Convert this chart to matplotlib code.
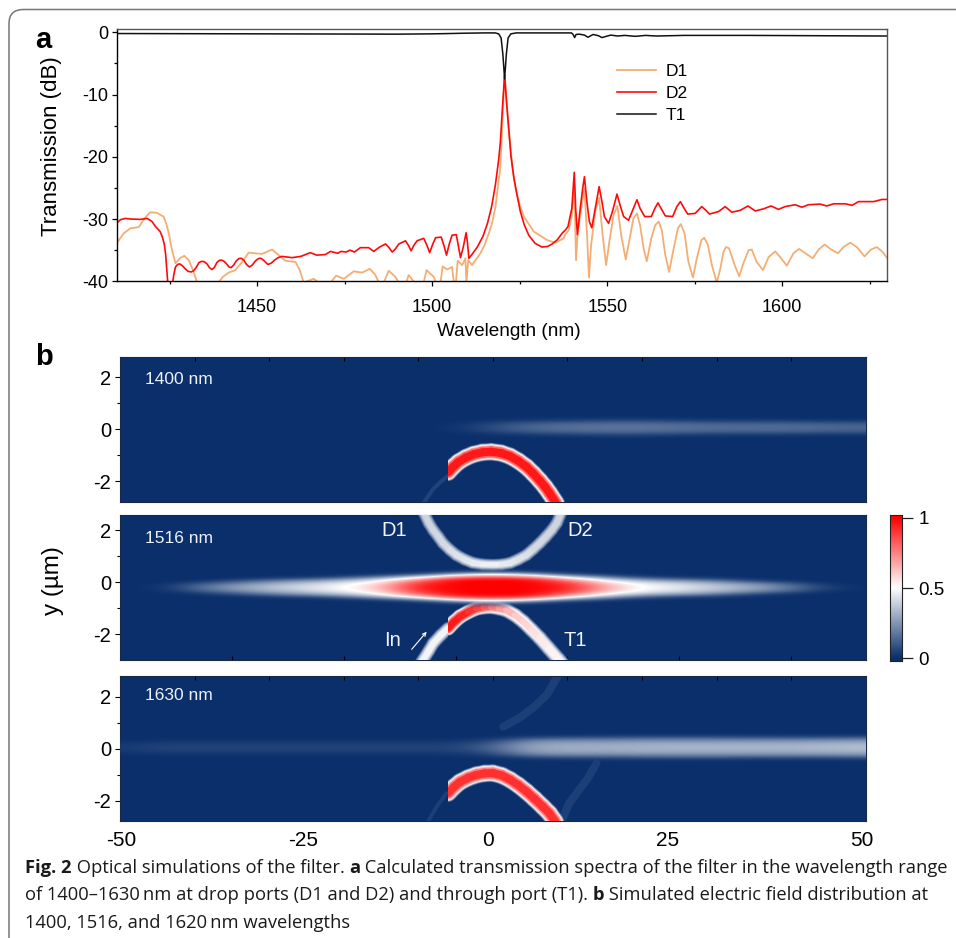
import numpy as np
import matplotlib
matplotlib.use("Agg")
import matplotlib.pyplot as plt
from matplotlib.collections import LineCollection
from matplotlib.colors import LinearSegmentedColormap
from matplotlib.patches import FancyBboxPatch, Rectangle

plt.rcParams['font.family'] = ['Liberation Sans', 'DejaVu Sans']
plt.rcParams['axes.unicode_minus'] = False

# spectra (nm, dB)
d2_nm = [1410, 1411, 1412.4, 1414, 1416.7, 1418.6, 1420, 1421, 1422.3, 1422.9, 1423.5, 1423.9, 1424.6, 1425.7, 1426.2, 1426.7, 1427.3, 1427.9, 1428.7, 1429.5,
         1430.3, 1431.2, 1431.9, 1432.6, 1433.4, 1434.1, 1434.9, 1435.7, 1436.4, 1437.1, 1437.8, 1438.5, 1439.2, 1439.9, 1440.6, 1441.3, 1442, 1442.6, 1443.3, 1444.1,
         1444.8, 1445.5, 1446.2, 1447, 1447.8, 1448.6, 1449.6, 1450.4, 1451.1, 1452, 1453.1, 1454, 1455, 1456, 1457.1, 1460, 1462.5, 1465.2, 1467.1, 1469.5,
         1471, 1473, 1474, 1475.4, 1476.6, 1477.8, 1479.5, 1481.9, 1483.3, 1485, 1486.7, 1487.7, 1488.6, 1489.5, 1490.5, 1492.4, 1493.2, 1494, 1494.8, 1495.7,
         1497.6, 1498.5, 1499.3, 1500.2, 1501, 1502.6, 1503.4, 1504.1, 1504.9, 1505.7, 1506.9, 1507.5, 1508.1, 1508.9, 1509.7, 1510.1, 1510.5, 1511.5, 1512.9, 1514.5,
         1515.8, 1517, 1518.1, 1519, 1519.5, 1520.1, 1520.7, 1521.3, 1521.9, 1522.5, 1523.3, 1524.2, 1525.2, 1526.3, 1527.6, 1529.4, 1531.4, 1533, 1534.3, 1535.8,
         1537.1, 1538, 1538.8, 1539.4, 1539.9, 1540.6, 1541, 1541.5, 1542.3, 1543, 1543.5, 1544.2, 1544.9, 1545.6, 1546.6, 1547.7, 1548.5, 1549.2, 1550.4, 1551.5,
         1552.8, 1553.7, 1554.7, 1556.1, 1557.5, 1558.5, 1559.4, 1560.7, 1562.6, 1563.7, 1564.5, 1565.4, 1566.6, 1568.7, 1569.9, 1570.9, 1572, 1573, 1575.1, 1577,
         1578.2, 1579.2, 1581.8, 1583.7, 1585.6, 1588, 1590.2, 1592.3, 1594.7, 1596.8, 1598.9, 1600.8, 1603.7, 1605.6, 1607.5, 1610.8, 1612.7, 1614.7, 1618, 1619.9,
         1621.8, 1626.1, 1628.5, 1630]
d2_db = [-30.6, -30.1, -29.9, -30, -30.05, -29.9, -30.4, -31.2, -32, -32.8, -34, -35.7, -41, -41, -39, -37.7, -37.3, -37.2, -37.5, -38,
         -38.4, -38.5, -38.3, -37.8, -37, -36.8, -36.85, -37.2, -37.8, -38.1, -37.8, -37, -36.65, -36.6, -36.8, -37.2, -37.7, -37.8, -37.4, -36.7,
         -36.35, -36.3, -36.6, -37.3, -37.7, -37.4, -36.7, -36.35, -36.3, -36.7, -37.3, -37.1, -36.6, -36.2, -36, -36.2, -36, -35.4, -35.8, -35.7,
         -35.2, -35.5, -35.2, -35.3, -35, -35.3, -34.6, -34.6, -35.2, -34.5, -34, -34.6, -35.3, -34.8, -34, -33.5, -34.2, -35.1, -34.2, -33.5,
         -33.1, -34.2, -35.4, -34, -33, -32.9, -34.3, -35.8, -34, -32.6, -32.5, -34.3, -36.2, -34.5, -32.2, -33.8, -36.3, -35.6, -34.5, -32.8,
         -30.7, -28, -24.4, -20.5, -17.6, -12, -6.8, -11.5, -15.6, -19.8, -23.2, -26, -28.8, -30.9, -32.6, -33.9, -34.5, -34.4, -34, -33.3,
         -32.3, -31.8, -31.2, -29.6, -28.3, -22.5, -28.3, -32.5, -28.3, -25.1, -23.2, -27.2, -30.4, -31.4, -28.3, -24.8, -27.2, -29.6, -30.7, -28.8,
         -26, -27.8, -29.6, -30.2, -28.3, -26.9, -28.3, -29.6, -29.6, -28.2, -27.4, -28.3, -29.5, -29.6, -28, -27.2, -28.3, -29.2, -29.1, -28,
         -28.6, -29.2, -28.8, -28, -28.9, -28.6, -27.9, -28.7, -28.35, -27.9, -28.45, -28, -27.7, -28.1, -27.7, -27.6, -27.9, -27.55, -27.55, -27.8,
         -27.2, -27.2, -26.85, -26.85]

d1_nm = [1410, 1411.9, 1413.8, 1416.2, 1418, 1419.5, 1421.4, 1423.3, 1424.1, 1424.8, 1425.7, 1426.7, 1428, 1429.2, 1430.5, 1431.7, 1432.9, 1435, 1438.6, 1440.2,
         1441.9, 1443.8, 1445.7, 1447.6, 1451.4, 1454.3, 1456.2, 1458.1, 1461, 1462.2, 1463.3, 1466.2, 1467.6, 1471, 1472.6, 1474.8, 1477.6, 1480, 1482.2, 1483.7,
         1484.8, 1486.2, 1487.6, 1489.5, 1490.5, 1492.6, 1493.3, 1495, 1497.6, 1498.4, 1500.5, 1501, 1502.4, 1503, 1504.3, 1505.7, 1506.2, 1506.8, 1507.3, 1508.6,
         1509.5, 1509.8, 1510.3, 1511.4, 1513.8, 1515, 1516.2, 1517.2, 1518.1, 1519.5, 1520.1, 1520.7, 1521.3, 1521.9, 1523, 1523.8, 1525, 1526.2, 1529, 1532.9,
         1535.2, 1537.6, 1538, 1539, 1539.9, 1540.6, 1541.1, 1541.6, 1542.6, 1543.5, 1544.2, 1544.8, 1545.4, 1546.6, 1547.7, 1548.7, 1549.7, 1550.6, 1551.8, 1552.9,
         1554, 1555.3, 1556.6, 1557.5, 1558.5, 1559.4, 1560.4, 1561.3, 1562.6, 1563.7, 1564.7, 1565.6, 1566.6, 1567.7, 1569, 1570.2, 1571, 1572.1, 1573.2, 1574.5,
         1575.6, 1576.9, 1577.7, 1578.8, 1579.9, 1581.3, 1582.3, 1583.2, 1583.9, 1584.8, 1586.4, 1587.7, 1588.9, 1590.4, 1591.3, 1592.7, 1594.5, 1596.1, 1598, 1599.4,
         1601.3, 1603.2, 1604.8, 1606.6, 1608.7, 1610.4, 1612.1, 1614, 1615.9, 1617.5, 1619.4, 1621.3, 1623.5, 1625.3, 1627, 1628.7, 1630]
d1_db = [-33.8, -32.3, -31.5, -31.3, -29.8, -28.9, -29, -29.6, -30.8, -32.3, -35, -37.1, -36.3, -35.9, -36.6, -38.2, -40.2, -41, -40.5, -39.3,
         -38.6, -38.2, -36.9, -35.4, -35.6, -34.9, -35.8, -36.7, -36.9, -38.2, -40.2, -39.6, -40.2, -40.2, -39.1, -39.6, -38.4, -38.6, -38, -38.9,
         -40.2, -40.2, -38.3, -39.3, -40.2, -40.2, -39, -40.2, -40.2, -38.2, -39.3, -40.2, -40.2, -37.6, -38.1, -37.7, -40.2, -40.2, -36.7, -37.4,
         -36.3, -40.2, -36.6, -37.4, -35.5, -34.1, -32.3, -30.5, -28, -21.6, -14, -7, -11.5, -15.6, -22, -25, -27.7, -29.6, -32, -33.4,
         -33.8, -33.1, -32.5, -31.8, -29.4, -24.5, -36.6, -32.05, -28.3, -25.1, -32, -39.4, -34.2, -28.8, -26.6, -32.6, -37.4, -33.7, -29.4, -27.9,
         -32.6, -36.5, -32.6, -29.9, -29.1, -31, -34.7, -36.8, -33.1, -31, -30.4, -31.8, -35.8, -38.5, -34.7, -31.5, -30.8, -32.3, -36.9, -39.4,
         -36.3, -33.4, -33, -34.2, -37.4, -40.2, -38, -35.3, -34.5, -34.7, -37.4, -39.2, -37.1, -35, -34.9, -36.9, -38.2, -36.1, -35.2, -36.1,
         -37.5, -35.5, -34.8, -35.5, -36.3, -34.9, -34.1, -34.9, -35.5, -34.5, -33.8, -34.5, -36, -34.9, -34.5, -35.3, -36.3]

t1_nm = [1410, 1450, 1490, 1500, 1505, 1509, 1515, 1518, 1519, 1519.7, 1520.2, 1520.7, 1521.2, 1521.7, 1522.5, 1524, 1539.8, 1540.2, 1540.7, 1541.1,
         1542, 1543.5, 1544.5, 1546, 1547.5, 1548.5, 1551, 1553, 1555, 1558, 1561, 1564, 1568, 1572, 1590, 1610, 1630]
t1_db = [-0.2, -0.25, -0.3, -0.25, -0.2, -0.15, -0.1, -0.1, -0.25, -0.9, -3.5, -7.5, -3.5, -0.9, -0.25, -0.1, -0.1, -0.3, -0.85, -0.35,
         -0.3, -0.45, -0.8, -0.35, -0.55, -0.85, -0.45, -0.6, -0.5, -0.65, -0.5, -0.6, -0.55, -0.5, -0.5, -0.55, -0.6]

a_xticks = [1450, 1500, 1550, 1600]
a_xminor = [1425, 1475, 1525, 1575, 1625]
a_yticks = [0, -10, -20, -30, -40]
a_yminor = [-5, -15, -25, -35]

# field panels b: beam envelope on a 5 um grid, rows at |y - y0| = 0, .15, .3, .45, .6, .75
beam_x = np.arange(-50, 55, 5)
beam_offsets = [0, 0.15, 0.3, 0.45, 0.6, 0.75]

beam_1400 = [
    [0, 0, 0, 0, 0, 0, 0, 0, 0, .05, .1, .14, .16, .17, .17, .16, .15, .15, .15, .14, .14],
    [0, 0, 0, 0, 0, 0, 0, 0, 0, .04, .09, .12, .14, .15, .15, .14, .13, .13, .13, .12, .12],
    [0, 0, 0, 0, 0, 0, 0, 0, 0, .01, .04, .06, .07, .08, .08, .07, .06, .06, .06, .05, .05],
    [0, 0, 0, 0, 0, 0, 0, 0, 0, 0, 0, .01, .01, .02, .02, .01, .01, .01, 0, 0, 0],
    [0] * 21,
    [0] * 21,
]
beam_1516 = [
    [0, .05, .14, .27, .36, .43, .5, .62, .95, 1, 1, 1, .95, .68, .5, .45, .38, .3, .18, .08, .02],
    [0, .03, .11, .2, .3, .38, .46, .58, .92, 1, 1, 1, .92, .62, .46, .41, .33, .24, .13, .05, .01],
    [0, 0, .03, .08, .13, .2, .3, .44, .72, 1, 1, 1, .72, .44, .28, .2, .13, .07, .03, 0, 0],
    [0, 0, 0, 0, .02, .03, .07, .12, .3, .6, .75, .6, .3, .12, .06, .03, .02, 0, 0, 0, 0],
    [0, 0, 0, 0, 0, 0, 0, .01, .03, .1, .15, .1, .03, .01, 0, 0, 0, 0, 0, 0, 0],
    [0] * 21,
]
beam_1630 = [
    [.06, .08, .08, .08, .08, .08, .08, .08, .08, .08, .14, .29, .31, .31, .32, .33, .33, .33, .33, .34, .35],
    [.05, .07, .07, .07, .07, .07, .07, .07, .07, .07, .12, .27, .29, .29, .3, .3, .3, .3, .3, .31, .32],
    [.02, .04, .04, .04, .04, .04, .04, .04, .04, .04, .08, .19, .2, .2, .21, .21, .21, .21, .21, .22, .23],
    [0, .01, .01, .01, .01, .01, .01, .01, .01, .01, .02, .06, .07, .07, .08, .08, .08, .07, .07, .07, .08],
    [0] * 21,
    [0] * 21,
]

# waveguide centre lines (um) and peak field along them
arc_1400_x = [-6.0, -5.3, -4.6, -3.6, -2.6, -1.4, -0.2, 1.1, 2.3, 3.4, 4.5, 5.4, 6.3, 7.0, 7.6, 8.5]
arc_1400_y = [-1.66, -1.44, -1.26, -1.09, -0.97, -0.89, -0.87, -0.92, -1.04, -1.22, -1.45, -1.7, -1.98, -2.22, -2.46, -2.85]
arc_1400_a = [1] * 16

arc_1630_x = [-6.0, -5.2, -4.4, -3.3, -2.2, -1.1, 0, 1.2, 2.3, 3.4, 4.5, 5.6, 6.7, 7.6, 8.4]
arc_1630_y = [-1.7, -1.46, -1.27, -1.11, -1.0, -0.94, -0.93, -1.02, -1.18, -1.39, -1.64, -1.92, -2.22, -2.48, -2.8]
arc_1630_a = [.95] * 15

arc_up_x = [-9.3, -8.6, -8, -7.3, -6.7, -5.8, -4.9, -3.8, -2.7, -1.4, 0, 1.2, 2.3, 3.4, 4.5, 5.4, 6.3, 7.1, 7.9, 8.6, 9.2]
arc_up_y = [2.7, 2.28, 2, 1.74, 1.5, 1.25, 1.04, .87, .74, .67, .65, .67, .73, .87, 1.04, 1.26, 1.5, 1.74, 2, 2.28, 2.7]
arc_up_a = [.42, .42, .42, .43, .43, .44, .45, .46, .47, .48, .5, .48, .47, .46, .45, .44, .43, .43, .42, .42, .42]

arc_low_in_x = [-9.6, -9.3, -8.6, -8, -7, -6]
arc_low_in_y = [-3.1, -2.97, -2.65, -2.36, -2.05, -1.78]
arc_low_in_a = [.5, .5, .5, .5, .5, .5]

arc_low_x = [-6.0, -5.2, -4.4, -3.3, -2.2, -1.2, -0.2, 0.8, 1.8, 3.0, 4.1, 5.2, 6.3, 7.5, 8.8, 9.2]
arc_low_y = [-1.78, -1.53, -1.33, -1.15, -1.01, -0.96, -0.95, -1.0, -1.08, -1.28, -1.53, -1.84, -2.16, -2.55, -2.97, -3.1]
arc_low_a = [1, 1, 1, .97, .93, .88, .82, .75, .7, .65, .62, .6, .58, .56, .55, .55]

# faint scattering streaks
ghost_1400_x = [-9.2, -8, -6.9, -6]
ghost_1400_y = [-2.8, -2.3, -2, -1.8]
ghost_1630a_x = [8.7, 7.3, 5.5, 3.6, 1.4]
ghost_1630a_y = [2.8, 2.1, 1.6, 1.2, .85]
ghost_1630b_x = [13.9, 12.8, 11.5, 10.2, 9.2]
ghost_1630b_y = [-.55, -1.1, -1.6, -2.1, -2.8]
ghost_1630c_x = [-8.7, -7.5, -6.2]
ghost_1630c_y = [-2.8, -2.2, -1.7]

# band cross section: fraction of the peak and full width in pixels
band_levels = [.08, .2, .35, .5, .65, .8, .95]
band_widths = [18, 17, 16, 14.5, 13, 11, 8]

panel_names = ['1400 nm', '1516 nm', '1630 nm']
b_xlabels = ['-50', '-25', '0', '25', '50']
b_xlabel_pos = [-49.8, -25.5, -0.6, 23.4, 49.5]

cmap = LinearSegmentedColormap.from_list('field', ['#0a2f6b', '#ffffff', '#ff0000'])

W, H = 956, 938
fig = plt.figure(figsize=(W / 100, H / 100), dpi=100)
GREY = '#222222'


def box(left, top, right, bottom):
    return [left / W, 1 - bottom / H, (right - left) / W, (bottom - top) / H]


def put(x, y, s, **kw):
    return fig.text(x / W, 1 - y / H, s, **kw)


# frame of the figure block
fig.add_artist(FancyBboxPatch((9 / W, 0.0 - 0.1), 2, 1 - 9.5 / H + 0.1, boxstyle='round,pad=0,rounding_size=0.015',
                              transform=fig.transFigure, fc='none', ec='#777777', lw=1.1, mutation_aspect=1))

# panel a
ax = fig.add_axes(box(117, 29.3, 887.3, 281.3))
ax.plot(d1_nm, d1_db, color='#f4ae74', lw=1.3, label='D1')
ax.plot(d2_nm, d2_db, color='#ff0a0a', lw=1.2, label='D2')
ax.plot(t1_nm, t1_db, color='#111111', lw=1.1, label='T1')
ax.set_xlim(1410, 1630)
ax.set_ylim(-40, 0.48)
ax.set_xticks(a_xticks)
ax.set_xticks(a_xminor, minor=True)
ax.set_yticks(a_yticks)
ax.set_yticks(a_yminor, minor=True)
ax.tick_params(axis='x', which='major', pad=9)
ax.tick_params(axis='y', which='major', pad=3)
ax.tick_params(which='major', length=3.5, width=0.9, labelsize=13)
ax.tick_params(which='minor', length=2.5, width=0.9)
for s in ax.spines.values():
    s.set_linewidth(1.0)
for s in ['top', 'right']:
    ax.spines[s].set_color('#555555')
ax.legend(loc='upper left', bbox_to_anchor=(0.6495, 0.861), frameon=False, fontsize=12.5,
          handlelength=2.2, handletextpad=0.6, labelspacing=0.38, borderpad=0, borderaxespad=0)
put(509, 331, 'Wavelength (nm)', fontsize=13.7, ha='center', va='center')
put(52, 146, 'Transmission (dB)', fontsize=16, rotation=90, ha='center', va='center')
put(35, 48, 'a', fontsize=21, fontweight='bold', ha='left', va='baseline')
put(35, 365, 'b', fontsize=21, fontweight='bold', ha='left', va='baseline')


def draw_band(ax, x, y, amp, left=None, right=None, scale=1.0):
    pts = np.column_stack([x, y])
    segs = np.stack([pts[:-1], pts[1:]], axis=1)
    a = (np.array(amp[:-1]) + np.array(amp[1:])) / 2
    y0, y1 = ax.get_ylim()
    for lev, wid in zip(band_levels, band_widths):
        lc = LineCollection(segs, colors=cmap(lev * a), linewidths=wid * scale * 0.72, capstyle='round', zorder=3)
        ax.add_collection(lc)
        if left is not None or right is not None:
            lo = -60 if left is None else left
            hi = 60 if right is None else right
            lc.set_clip_path(Rectangle((lo, y0), hi - lo, y1 - y0, transform=ax.transData))


def draw_ghost(ax, x, y, level=.04, width=8):
    ax.plot(x, y, color=cmap(level), lw=width * 0.72, solid_capstyle='round', zorder=2)


def field_axes(top, bottom, ylim, beam, y0):
    ax = fig.add_axes(box(120, top, 865.7, bottom))
    m = np.array(beam, dtype=float)
    m = np.vstack([m[::-1], m[1:]])
    off = np.array(beam_offsets)
    dy = off[1] - off[0]
    ax.set_facecolor(cmap(0.0))
    # transparent where the beam is empty, so the band glow is not cut by it
    ax.imshow(m, cmap=cmap, vmin=0, vmax=1, aspect='auto', interpolation='bicubic', origin='lower',
              alpha=np.clip(m * 8, 0, 1),
              extent=[beam_x[0] - 2.5, beam_x[-1] + 2.5, y0 - off[-1] - dy / 2, y0 + off[-1] + dy / 2], zorder=4)
    ax.set_xlim(-50, 50)
    ax.set_ylim(*ylim)
    ax.set_yticks([2, 0, -2])
    ax.set_yticklabels(['2', '0', '-2'])
    ax.set_yticks([1, -1], minor=True)
    ax.set_xticks([])
    ax.tick_params(axis='y', which='major', length=3.5, width=0.8, labelsize=14.5, pad=3)
    ax.tick_params(axis='y', which='minor', length=2, width=0.8)
    for s in ax.spines.values():
        s.set_linewidth(0.8)
        s.set_color('#1b2a44')
    return ax


ax1 = field_axes(357, 502, (-2.8, 2.77), beam_1400, 0.05)
draw_ghost(ax1, ghost_1400_x, ghost_1400_y, level=.05, width=4)
draw_band(ax1, arc_1400_x, arc_1400_y, arc_1400_a, left=-6)
ax1.tick_params(axis='x', which='major', direction='in', top=True, bottom=False, length=3, width=0.8)
ax1.set_xticks(np.arange(-40, 50, 10))
ax1.set_xticklabels([])

ax2 = field_axes(515, 660, (-3.0, 2.58), beam_1516, -0.2)
draw_band(ax2, arc_up_x, arc_up_y, arc_up_a, scale=0.72)
draw_band(ax2, arc_low_in_x, arc_low_in_y, arc_low_in_a, right=-6, scale=0.75)
draw_band(ax2, arc_low_x, arc_low_y, arc_low_a, left=-6, scale=0.85)
ax2.set_xticks(np.arange(-35, 50, 15))
ax2.set_xticklabels([])
ax2.tick_params(axis='x', which='major', direction='in', top=False, bottom=True, length=3, width=0.8)

ax3 = field_axes(676, 821, (-2.77, 2.8), beam_1630, 0.05)
draw_ghost(ax3, ghost_1630a_x, ghost_1630a_y)
draw_ghost(ax3, ghost_1630b_x, ghost_1630b_y)
draw_ghost(ax3, ghost_1630c_x, ghost_1630c_y, width=4)
draw_band(ax3, arc_1630_x, arc_1630_y, arc_1630_a, left=-6)
ax3.tick_params(axis='x', which='major', direction='in', top=True, bottom=False, length=3, width=0.8)
ax3.set_xticks(np.arange(-40, 50, 10))
ax3.set_xticklabels([])
for xp, lab in zip(b_xlabel_pos, b_xlabels):
    ax3.annotate(lab, (xp, 0), xycoords=('data', 'axes fraction'), xytext=(0, -7), textcoords='offset points',
                 ha='center', va='top', fontsize=15)

for yc, name in zip([380, 538, 695], panel_names):
    put(145, yc, name, color='#eef2f8', fontsize=12.5, ha='left', va='center')

put(394.5, 530, 'D1', color='#f2f4f8', fontsize=14.5, ha='center', va='center')
put(580, 530, 'D2', color='#f2f4f8', fontsize=14.5, ha='center', va='center')
put(393, 640, 'In', color='#f2f4f8', fontsize=14.5, ha='center', va='center')
put(575, 640, 'T1', color='#f2f4f8', fontsize=14.5, ha='center', va='center')
ax2.annotate('', xy=(426.7, H - 631.7), xytext=(411.7, H - 649.3), xycoords='figure pixels', textcoords='figure pixels',
             arrowprops=dict(arrowstyle='->,head_length=0.25,head_width=0.12', color='white', lw=0.8, shrinkA=0, shrinkB=0))
put(53, 581, 'y (\u00b5m)', fontsize=17.5, rotation=90, ha='center', va='center')

# colour bar
cax = fig.add_axes(box(890, 515, 901.7, 661))
cax.imshow(np.linspace(-0.02, 1.02, 256)[:, None], cmap=cmap, vmin=0, vmax=1, aspect='auto', origin='lower',
           extent=[0, 1, -0.02, 1.02])
cax.set_xticks([])
cax.yaxis.tick_right()
cax.set_yticks([0, 0.5, 1])
cax.set_yticklabels(['0', '0.5', '1'])
cax.tick_params(axis='y', length=8, width=0.9, labelsize=13.5, pad=4, color=GREY)
for s in cax.spines.values():
    s.set_linewidth(0.8)
    s.set_color(GREY)

# caption
caption = [
    (25, 873, [('Fig. 2', True), (' Optical simulations of the filter. ', False), ('a', True),
               (' Calculated transmission spectra of the filter in the wavelength range', False)]),
    (25, 900, [('of 1400\u20131630\u2009nm at drop ports (D1 and D2) and through port (T1). ', False), ('b', True),
               (' Simulated electric field distribution at', False)]),
    (25, 928, [('1400, 1516, and 1620\u2009nm wavelengths', False)]),
]
fig.canvas.draw()
rend = fig.canvas.get_renderer()
for x0, yb, runs in caption:
    x = x0
    for txt, bold in runs:
        t = put(x, yb, txt.replace(' ', '\u00a0'), family=['Open Sans', 'DejaVu Sans'], fontsize=13.2,
                fontweight='bold' if bold else 'normal', ha='left', va='baseline', color='#1a1a1a')
        x += t.get_window_extent(rend).width

fig.savefig('out.png', dpi=100)
